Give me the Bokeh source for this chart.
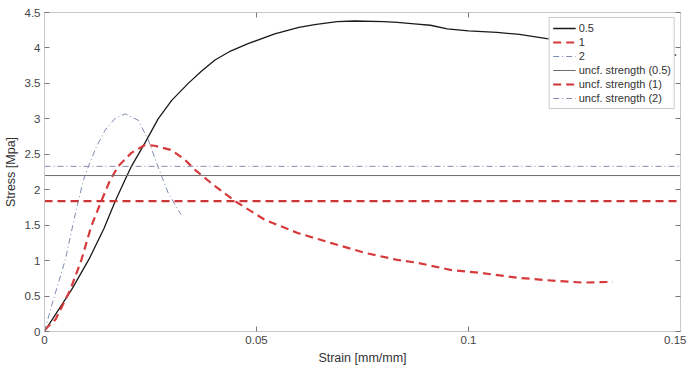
from bokeh.plotting import figure
from bokeh.models import Range1d, FixedTicker, CustomJSTickFormatter, LinearAxis, Legend, LegendItem
from bokeh.embed import file_html
from bokeh.resources import INLINE

# ---- data ----
strain_05 = [0, 0.0064, 0.0105, 0.0140, 0.0167, 0.0190, 0.0205, 0.0237, 0.0268, 0.0300,
             0.0339, 0.0370, 0.0402, 0.0440, 0.0480, 0.0543, 0.0600, 0.0637, 0.0690,
             0.0731, 0.0800, 0.0832, 0.0872, 0.0910, 0.0950, 0.1000, 0.1067, 0.1120,
             0.1185, 0.1250, 0.1320, 0.1400, 0.1490]
stress_05 = [0, 0.59, 1.02, 1.45, 1.84, 2.14, 2.33, 2.66, 3.00, 3.26,
             3.50, 3.67, 3.83, 3.96, 4.06, 4.20, 4.29, 4.33, 4.37,
             4.38, 4.37, 4.36, 4.34, 4.32, 4.27, 4.24, 4.22, 4.19,
             4.13, 4.08, 4.02, 3.96, 3.90]

strain_1 = [0, 0.0026, 0.0061, 0.0087, 0.0110, 0.0134, 0.0155, 0.0174, 0.0205, 0.0237,
            0.0260, 0.0299, 0.0330, 0.0355, 0.0400, 0.0449, 0.0520, 0.0597, 0.0675,
            0.0755, 0.0832, 0.0879, 0.0957, 0.1037, 0.1114, 0.1192, 0.1270, 0.1340]
stress_1 = [0.02, 0.17, 0.59, 1.01, 1.48, 1.84, 2.14, 2.33, 2.52, 2.63,
            2.62, 2.56, 2.43, 2.28, 2.06, 1.84, 1.575, 1.39, 1.25,
            1.11, 1.01, 0.97, 0.87, 0.82, 0.76, 0.72, 0.69, 0.70]

strain_2 = [0, 0.0016, 0.0049, 0.0073, 0.0092, 0.0103, 0.0122, 0.0143, 0.0167, 0.0190,
            0.0221, 0.0245, 0.0268, 0.0292, 0.0322]
stress_2 = [0, 0.35, 1.01, 1.67, 2.14, 2.32, 2.60, 2.84, 3.01, 3.07,
            2.98, 2.70, 2.32, 1.95, 1.65]

unconfined_strength = [2.20, 1.84, 2.33]   # (0.5), (1), (2)
x_limits = [0, 0.15]
y_limits = [0, 4.5]
x_ticks = [0, 0.05, 0.1, 0.15]
y_ticks = [0, 0.5, 1, 1.5, 2, 2.5, 3, 3.5, 4, 4.5]
series_labels = ["0.5", "1", "2"]
strength_labels = ["uncf. strength (0.5)", "uncf. strength (1)", "uncf. strength (2)"]

FONT = "Liberation Sans"

p = figure(width=686, height=367, output_backend="svg", toolbar_location=None,
           x_range=Range1d(*x_limits), y_range=Range1d(*y_limits),
           min_border_left=38, min_border_right=6, min_border_top=12, min_border_bottom=35)
p.outline_line_color = None
p.xgrid.visible = False
p.ygrid.visible = False

fmt = CustomJSTickFormatter(code="return String(Math.round(tick*1000)/1000);")
blank = CustomJSTickFormatter(code="return '';")

def style_axis(ax, labels=True):
    ax.axis_line_color = "#c8c8c8"
    ax.major_tick_line_color = "#7a7a7a"
    ax.major_tick_in = 5
    ax.major_tick_out = 0
    ax.minor_tick_line_color = None
    ax.major_label_text_font = FONT
    ax.major_label_text_font_size = "11.5px"
    ax.major_label_text_color = "#444444"
    ax.axis_label_text_font = FONT
    ax.axis_label_text_font_size = "12.5px"
    ax.axis_label_text_font_style = "normal"
    ax.axis_label_text_color = "#333333"
    if not labels:
        ax.formatter = blank
        ax.major_label_standoff = 0
        ax.major_label_text_font_size = "0px"
        ax.axis_label_standoff = 0

p.xaxis.ticker = FixedTicker(ticks=x_ticks)
p.yaxis.ticker = FixedTicker(ticks=y_ticks)
p.xaxis.formatter = fmt
p.yaxis.formatter = fmt
p.xaxis.axis_label = "Strain [mm/mm]"
p.yaxis.axis_label = "Stress [Mpa]"
style_axis(p.xaxis[0])
style_axis(p.yaxis[0])
p.xaxis.major_label_standoff = 4
p.yaxis.major_label_standoff = 4
p.xaxis.axis_label_standoff = 4
p.yaxis.axis_label_standoff = 4

top = LinearAxis(ticker=FixedTicker(ticks=x_ticks))
right = LinearAxis(ticker=FixedTicker(ticks=y_ticks))
style_axis(top, labels=False)
style_axis(right, labels=False)
p.add_layout(top, "above")
p.add_layout(right, "right")

# curves
r05 = p.line(strain_05, stress_05, line_color="#1a1a1a", line_width=1.3)
r1 = p.line(strain_1, stress_1, line_color="#d63a3c", line_width=2.2, line_dash="8 5")
r2 = p.line(strain_2, stress_2, line_color="#7f8cb0", line_width=1.0, line_dash="6 3 1 3")

# unconfined strength lines
h05 = p.line(x_limits, [unconfined_strength[0]] * 2, line_color="#6e6e6e", line_width=1.0)
h1 = p.line(x_limits, [unconfined_strength[1]] * 2, line_color="#cc3538", line_width=2.2, line_dash="8 5")
h2 = p.line(x_limits, [unconfined_strength[2]] * 2, line_color="#8a8ab0", line_width=1.0, line_dash="6 3 1 3")

legend = Legend(items=[
    LegendItem(label=series_labels[0], renderers=[r05]),
    LegendItem(label=series_labels[1], renderers=[r1]),
    LegendItem(label=series_labels[2], renderers=[r2]),
    LegendItem(label=strength_labels[0], renderers=[h05]),
    LegendItem(label=strength_labels[1], renderers=[h1]),
    LegendItem(label=strength_labels[2], renderers=[h2]),
], location="top_right")
legend.label_text_font = FONT
legend.label_text_font_size = "11px"
legend.label_text_color = "#333333"
legend.label_height = 14
legend.glyph_height = 14
legend.glyph_width = 23
legend.spacing = 0
legend.padding = 3
legend.margin = 5
legend.label_standoff = 3
legend.border_line_color = "#9a9a9a"
legend.border_line_width = 1
legend.background_fill_color = "white"
legend.background_fill_alpha = 1
p.add_layout(legend, "center")

open("out.html", "w").write(file_html(p, INLINE))
